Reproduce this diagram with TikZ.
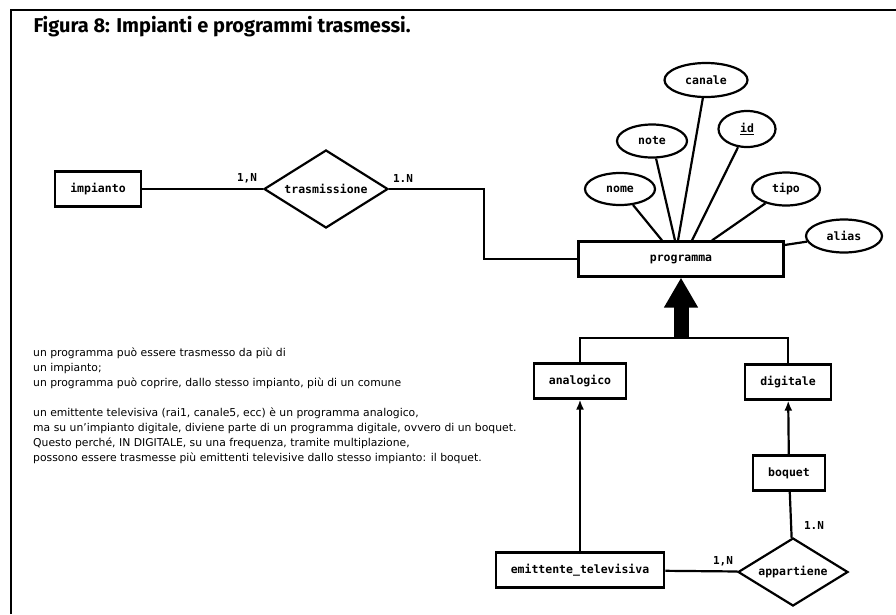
\documentclass[tikz,border=0pt]{standalone}
\usepackage{fontspec}
\setmainfont{DejaVu Sans}
\setmonofont{DejaVu Sans Mono}
\newfontfamily\titlefont{Fira Sans}
\usetikzlibrary{arrows.meta,positioning,shapes.geometric}

\begin{document}
\begin{tikzpicture}[x=1pt, y=-1pt,
  entity/.style={draw, line width=2.2pt, rectangle, minimum height=35pt, inner xsep=15pt,
    font=\ttfamily\bfseries\fontsize{11.5}{13}\selectfont},
  attr/.style={draw, line width=2.2pt, ellipse, inner sep=0pt,
    font=\ttfamily\bfseries\fontsize{11.5}{13}\selectfont},
  rel/.style={draw, line width=2.2pt, diamond, inner sep=0pt, aspect=1.6,
    font=\ttfamily\bfseries\fontsize{11.5}{13}\selectfont},
  link/.style={line width=2.2pt},
  card/.style={font=\ttfamily\bfseries\fontsize{11}{13}\selectfont, inner sep=0pt}]

\useasboundingbox (0,0) rectangle (896,614);

% Frame and title
\draw[line width=2pt] (11,614) -- (11,10) -- (896,10);
\node[font=\titlefont\bfseries\fontsize{20}{24}\selectfont, anchor=west] (title) at (30,27) {Figura 8: Impianti e programmi trasmessi.};

% --- impianto / trasmissione ---
\node[entity] (impianto) at (98,189) {impianto};
\node[rel, minimum width=124pt, minimum height=78pt] (trasmissione) at (326,189) {trasmissione};

% --- programma and its attributes ---
\node[entity, minimum width=205pt] (programma) at (681,259) {programma};
\node[attr, minimum width=70pt, minimum height=32pt] (nome) at (620,189) {nome};
\node[attr, minimum width=70pt, minimum height=33pt] (note) at (652,141) {note};
\node[attr, minimum width=83pt, minimum height=34pt] (canale) at (706,80) {canale};
\node[attr, minimum width=57pt, minimum height=36pt] (id) at (747,129) {\underline{id}};
\node[attr, minimum width=68pt, minimum height=33pt] (tipo) at (786,189) {tipo};
\node[attr, minimum width=76pt, minimum height=33pt] (alias) at (844,236) {alias};

\draw[link] (nome) -- ([xshift=-19pt]programma.north);
\draw[link] (note) -- ([xshift=-6pt]programma.north);
\draw[link] (canale) -- ([xshift=-3pt]programma.north);
\draw[link] (id) -- ([xshift=11pt]programma.north);
\draw[link] (tipo) -- ([xshift=31pt]programma.north);
\draw[link] ([yshift=14pt]programma.east) -- (alias);

% --- trasmissione links ---
\draw[link] (impianto) -- (trasmissione);
\draw[link] (trasmissione.east) -- ++(95,0) |- (programma.west);
\node[card] (ctrasimp) at (247,178) {1,N};
\node[card] (ctrasprog) at (403,178) {1.N};

% --- generalization ---
\node[entity] (analogico) at (580,381) {analogico};
\node[entity] (digitale) at (788,382) {digitale};
\coordinate (isa) at (681,338);
\draw[link] (analogico.north) |- (isa) -| (digitale.north);
\draw[line width=15pt, -{Triangle[width=32pt,length=30pt]}] (isa) -- (programma.south);

% --- emittente / boquet ---
\node[entity] (boquet) at (789,473) {boquet};
\node[entity] (emittente) at (580,570) {emittente\_televisiva};
\node[rel, minimum width=110pt, minimum height=68pt] (appartiene) at (793,572) {appartiene};

\draw[link, -{Latex[length=10pt,width=8pt]}] (emittente) -- (analogico);
\draw[link, -{Latex[length=10pt,width=8pt]}] (boquet) -- (digitale);
\draw[link] (boquet) -- (appartiene);
\draw[link] (emittente) -- (appartiene);
\node[card] (cappbog) at (814,525) {1.N};
\node[card] (cappemi) at (723,561) {1,N};

% Notes
\node[font=\fontsize{10.8}{15}\selectfont, align=left, anchor=north west, inner sep=0pt] (notes) at (33,348)
{un programma può essere trasmesso da più di\\
un impianto;\\
un programma può coprire, dallo stesso impianto, più di un comune\\[15pt]
un emittente televisiva (rai1, canale5, ecc) è un programma analogico,\\
ma su un'impianto digitale, diviene parte di un programma digitale, ovvero di un boquet.\\
Questo perché, IN DIGITALE, su una frequenza, tramite multiplazione,\\
possono essere trasmesse più emittenti televisive dallo stesso impianto: il boquet.};

\end{tikzpicture}
\end{document}
